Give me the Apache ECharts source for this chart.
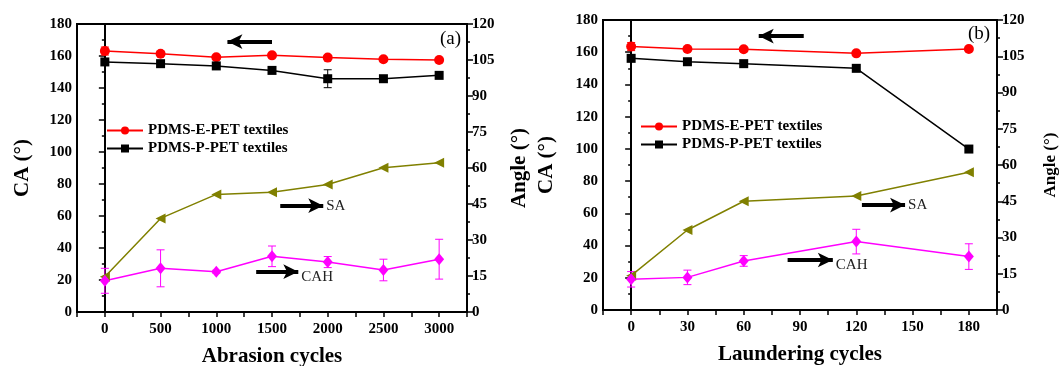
<!DOCTYPE html>
<html><head><meta charset="utf-8">
<script src="https://cdn.jsdelivr.net/npm/echarts@6/dist/echarts.min.js"></script>
<style>html,body{margin:0;padding:0;background:#fff}#c{width:1062px;height:366px}</style>
</head><body><div id="c"></div>
<script>
// ---- data: panel (a) abrasion ----
const abrasionCycles = [0, 500, 1000, 1500, 2000, 2500, 3000];
const caE_a = [163.1, 161.4, 159.2, 160.4, 159.0, 158.0, 157.5];
const caE_a_err = [2.5, 1.2, 0, 0, 0, 0, 0];
const caP_a = [156.3, 155.2, 153.8, 151.0, 145.8, 145.8, 147.9];
const caP_a_err = [0, 0, 0, 0, 5.6, 0, 0];
const saA = [14.7, 39.0, 49.0, 49.9, 53.1, 60.1, 62.2];
const cahA = [13.0, 18.2, 16.8, 23.2, 20.8, 17.5, 22.0];
const cahA_err = [5.2, 7.7, 0.6, 4.3, 2.3, 4.5, 8.3];
// ---- data: panel (b) laundering ----
const launderingCycles = [0, 30, 60, 120, 180];
const caE_b = [163.5, 162.0, 161.8, 159.3, 162.0];
const caE_b_err = [2.5, 1.0, 1.0, 0, 0];
const caP_b = [156.2, 154.1, 152.9, 150.0, 99.9];
const caP_b_err = [0, 0, 0, 0, 0];
const saB = [14.2, 33.1, 45.0, 47.2, 57.0];
const cahB = [12.7, 13.5, 20.3, 28.3, 22.1];
const cahB_err = [3.2, 3.0, 2.2, 5.1, 5.3];
// ---- annotation arrows (data coordinates) ----
const arrowCA_a = [[1500, 169], [1100, 169]];
const arrowSA_a = [[1574, 44.3], [1960, 44.3]];
const arrowCAH_a = [[1358, 16.8], [1736, 16.8]];
const arrowCA_b = [[92, 170], [68, 170]];
const arrowSA_b = [[123, 43.4], [146, 43.4]];
const arrowCAH_b = [[83.4, 20.7], [107.5, 20.7]];
const seriesNames = ['PDMS-E-PET textiles', 'PDMS-P-PET textiles', 'SA', 'CAH'];

const FONT = 'Liberation Serif';
const RED = '#ff0000', BLACK = '#000000', OLIVE = '#808000', MAG = '#ff00ff';

const chart = echarts.init(document.getElementById('c'));

function pairs(xs, ys) { return xs.map((x, i) => [x, ys[i]]); }

function xAxisCfg(gridIndex, min, max, step, labelStep, labelMax, name, nameGap) {
  return {
    type: 'value', gridIndex, min, max, interval: step,
    name, nameLocation: 'middle', nameGap,
    nameTextStyle: { fontFamily: FONT, fontWeight: 'bold', fontSize: 21, color: '#000' },
    axisLine: { show: true, lineStyle: { color: '#000', width: 2 } },
    axisTick: { show: true, length: 5, lineStyle: { color: '#000', width: 1.5 } },
    axisLabel: {
      fontFamily: FONT, fontWeight: 'bold', fontSize: 15, color: '#000', margin: 10,
      formatter: v => (v >= 0 && v <= labelMax && Math.round(v) % labelStep === 0) ? String(Math.round(v)) : ''
    },
    splitLine: { show: false }
  };
}
function yAxisCfg(gridIndex, position, max, step, name, nameGap, nameSize) {
  return {
    type: 'value', gridIndex, position, min: 0, max, interval: step,
    name, nameLocation: 'middle', nameGap, nameRotate: 90,
    nameTextStyle: { fontFamily: FONT, fontWeight: 'bold', fontSize: nameSize, color: '#000' },
    axisLine: { show: true, lineStyle: { color: '#000', width: 2 } },
    axisTick: { show: true, length: 6, lineStyle: { color: '#000', width: 1.5 } },
    minorTick: { show: true, splitNumber: 2, length: 3, lineStyle: { color: '#000', width: 1.5 } },
    axisLabel: { fontFamily: FONT, fontWeight: 'bold', fontSize: 15, color: '#000', margin: 5 },
    splitLine: { show: false }, minorSplitLine: { show: false }
  };
}
function lineSeries(name, xs, ys, color, symbol, size, xi, yi, rotate) {
  return {
    type: 'line', name, data: pairs(xs, ys), xAxisIndex: xi, yAxisIndex: yi,
    symbol, symbolSize: size, symbolRotate: rotate || 0, showAllSymbol: true,
    itemStyle: { color }, lineStyle: { color, width: 1.5 },
    emphasis: { disabled: true }, animation: false, z: 3
  };
}
function errorSeries(xs, ys, errs, color, xi, yi) {
  const data = [];
  xs.forEach((x, i) => { if (errs[i] > 0) data.push([x, ys[i] - errs[i], ys[i] + errs[i]]); });
  return {
    type: 'custom', xAxisIndex: xi, yAxisIndex: yi, silent: true, z: 2, animation: false,
    encode: { x: 0, y: [1, 2] }, data,
    renderItem(params, api) {
      const lo = api.coord([api.value(0), api.value(1)]);
      const hi = api.coord([api.value(0), api.value(2)]);
      const w = 4;
      const style = { stroke: color, lineWidth: 1 };
      return { type: 'group', children: [
        { type: 'line', shape: { x1: lo[0], y1: lo[1], x2: hi[0], y2: hi[1] }, style },
        { type: 'line', shape: { x1: lo[0] - w, y1: lo[1], x2: lo[0] + w, y2: lo[1] }, style },
        { type: 'line', shape: { x1: hi[0] - w, y1: hi[1], x2: hi[0] + w, y2: hi[1] }, style }
      ]};
    }
  };
}
function arrowMark(pts, text, offset) {
  return {
    silent: true, animation: false, symbol: ['none', 'arrow'], symbolSize: [11, 15],
    lineStyle: { color: '#000', width: 4, type: 'solid' },
    emphasis: { disabled: true },
    label: { show: !!text, position: 'end', formatter: text || '', distance: 3, offset: offset || [0, 0],
      fontFamily: FONT, fontSize: 15, color: '#222' },
    data: [[{ coord: pts[0] }, { coord: pts[1] }]]
  };
}

const sRedA = lineSeries(seriesNames[0], abrasionCycles, caE_a, RED, 'circle', 10, 0, 0);
sRedA.markLine = arrowMark(arrowCA_a, null);
const sBlkA = lineSeries(seriesNames[1], abrasionCycles, caP_a, BLACK, 'rect', 9, 0, 0);
const sSaA = lineSeries(seriesNames[2], abrasionCycles, saA, OLIVE, 'triangle', 10, 0, 1, 90);
sSaA.markLine = arrowMark(arrowSA_a, 'SA');
const sCahA = lineSeries(seriesNames[3], abrasionCycles, cahA, MAG, 'diamond', [10, 12], 0, 1);
sCahA.markLine = arrowMark(arrowCAH_a, 'CAH', [0, 5]);

const sRedB = lineSeries(seriesNames[0], launderingCycles, caE_b, RED, 'circle', 10, 1, 2);
sRedB.markLine = arrowMark(arrowCA_b, null);
const sBlkB = lineSeries(seriesNames[1], launderingCycles, caP_b, BLACK, 'rect', 9, 1, 2);
const sSaB = lineSeries(seriesNames[2], launderingCycles, saB, OLIVE, 'triangle', 10, 1, 3, 90);
sSaB.markLine = arrowMark(arrowSA_b, 'SA');
const sCahB = lineSeries(seriesNames[3], launderingCycles, cahB, MAG, 'diamond', [10, 12], 1, 3);
sCahB.markLine = arrowMark(arrowCAH_b, 'CAH', [0, 5]);

const legendText = { fontFamily: FONT, fontWeight: 'bold', fontSize: 15, color: '#000' };

chart.setOption({
  animation: false,
  backgroundColor: '#fff',
  grid: [
    { left: 77, top: 24, right: 595, bottom: 54, show: true, borderColor: '#000', borderWidth: 2, backgroundColor: 'transparent', outerBoundsMode: 'none', containLabel: false },
    { left: 603, top: 20, right: 65, bottom: 56, show: true, borderColor: '#000', borderWidth: 2, backgroundColor: 'transparent', outerBoundsMode: 'none', containLabel: false }
  ],
  xAxis: [
    xAxisCfg(0, -250, 3250, 250, 500, 3000, 'Abrasion cycles', 34),
    xAxisCfg(1, -15, 195, 15, 30, 180, 'Laundering cycles', 34)
  ],
  yAxis: [
    yAxisCfg(0, 'left', 180, 20, 'CA (°)', 44, 21),
    yAxisCfg(0, 'right', 120, 15, 'Angle (°)', 42, 21),
    yAxisCfg(1, 'left', 180, 20, 'CA (°)', 46, 21),
    yAxisCfg(1, 'right', 120, 15, 'Angle (°)', 45, 17)
  ],
  legend: [
    { data: seriesNames.slice(0, 2), orient: 'vertical', left: 101, top: 118, itemWidth: 36, itemHeight: 10, itemGap: 3,
      textStyle: legendText, selectedMode: false },
    { data: seriesNames.slice(0, 2), orient: 'vertical', left: 635, top: 114, itemWidth: 36, itemHeight: 10, itemGap: 3,
      textStyle: legendText, selectedMode: false }
  ],
  graphic: [
    { type: 'text', left: 440, top: 30, style: { text: '(a)', fontFamily: FONT, fontSize: 19, fill: '#000' } },
    { type: 'text', left: 968, top: 25, style: { text: '(b)', fontFamily: FONT, fontSize: 19, fill: '#000' } }
  ],
  series: [
    errorSeries(abrasionCycles, caE_a, caE_a_err, RED, 0, 0),
    errorSeries(abrasionCycles, caP_a, caP_a_err, BLACK, 0, 0),
    errorSeries(abrasionCycles, cahA, cahA_err, MAG, 0, 1),
    sRedA, sBlkA, sSaA, sCahA,
    errorSeries(launderingCycles, caE_b, caE_b_err, RED, 1, 2),
    errorSeries(launderingCycles, caP_b, caP_b_err, BLACK, 1, 2),
    errorSeries(launderingCycles, cahB, cahB_err, MAG, 1, 3),
    sRedB, sBlkB, sSaB, sCahB
  ]
});
</script></body></html>
